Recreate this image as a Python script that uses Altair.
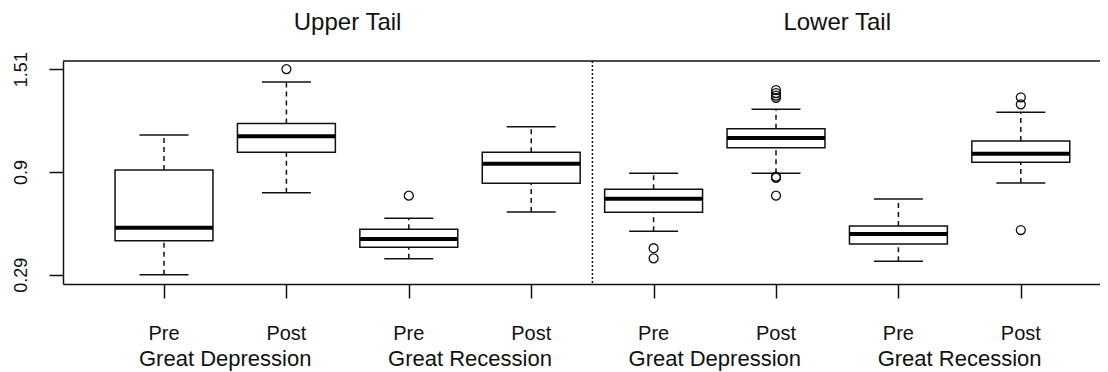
import altair as alt
import pandas as pd

# ---- data ----
positions = [1, 2, 3, 4, 5, 6, 7, 8]
phase = ["Pre", "Post", "Pre", "Post", "Pre", "Post", "Pre", "Post"]
lower = [0.290, 0.777, 0.385, 0.662, 0.548, 0.892, 0.370, 0.834]
q1 = [0.492, 1.016, 0.453, 0.832, 0.660, 1.044, 0.472, 0.957]
median = [0.569, 1.111, 0.502, 0.949, 0.741, 1.101, 0.532, 1.008]
q3 = [0.911, 1.188, 0.559, 1.016, 0.797, 1.156, 0.579, 1.083]
upper = [1.119, 1.434, 0.625, 1.168, 0.892, 1.272, 0.739, 1.254]

out_pos = [2, 3, 5, 5, 6, 6, 6, 6, 6, 6, 6, 8, 8, 8]
out_val = [1.510, 0.759, 0.447, 0.387, 1.386, 1.368, 1.353, 1.340, 0.872, 0.865, 0.759, 1.343, 1.301, 0.555]

group_pos = [1.5, 3.5, 5.5, 7.5]
group_label = ["Great Depression", "Great Recession", "Great Depression", "Great Recession"]

panel_pos = [2.5, 6.5]
panel_title = ["Upper Tail", "Lower Tail"]

divider = [4.5]
y_ticks = [0.29, 0.9, 1.51]

# ---- tables ----
boxes = pd.DataFrame({"pos": positions, "phase": phase, "lower": lower, "q1": q1,
                      "median": median, "q3": q3, "upper": upper})
outs = pd.DataFrame({"pos": out_pos, "val": out_val})
groups = pd.DataFrame({"pos": group_pos, "label": group_label})
panels = pd.DataFrame({"pos": panel_pos, "label": panel_title})
div = pd.DataFrame({"pos": divider})

W, H = 1037, 223
FONT = "Liberation Sans"
INK = "#111111"

xs = alt.Scale(domain=[0.1748, 8.647], nice=False, zero=False)
ys = alt.Scale(domain=[0.2348, 1.5582], nice=False, zero=False)

x_axis = alt.Axis(values=positions, labels=False, tickSize=14, tickWidth=1.5,
                  tickColor=INK, domainColor=INK, domainWidth=1.5, grid=False, title=None)
y_axis = alt.Axis(values=y_ticks, tickSize=14, tickWidth=1.5, tickColor=INK,
                  domainColor=INK, domainWidth=1.5, grid=False, title=None,
                  labelAngle=270, labelAlign="center", labelBaseline="alphabetic",
                  labelPadding=23, labelFont=FONT, labelFontSize=18, labelColor=INK,
                  labelExpr="datum.value == 0.9 ? '0.9' : format(datum.value, '.2f')")


def X(field):
    return alt.X(field, scale=xs, axis=x_axis)


def Y(field):
    return alt.Y(field, scale=ys, axis=y_axis)


base = alt.Chart(boxes)

whisk_hi = base.mark_rule(color=INK, strokeWidth=1.5, strokeDash=[5, 4]).encode(
    x=X("pos:Q"), y=Y("q3:Q"), y2="upper:Q",
)
whisk_lo = base.mark_rule(color=INK, strokeWidth=1.5, strokeDash=[5, 4]).encode(
    x=X("pos:Q"), y=Y("lower:Q"), y2="q1:Q",
)
caps_base = base.transform_calculate(cl="datum.pos - 0.2", cr="datum.pos + 0.2")
cap_hi = caps_base.mark_rule(color=INK, strokeWidth=1.5).encode(
    x=X("cl:Q"), x2="cr:Q", y=Y("upper:Q"),
)
cap_lo = caps_base.mark_rule(color=INK, strokeWidth=1.5).encode(
    x=X("cl:Q"), x2="cr:Q", y=Y("lower:Q"),
)
box_base = base.transform_calculate(bl="datum.pos - 0.4", br="datum.pos + 0.4")
rect = box_base.mark_rect(fill="white", stroke=INK, strokeWidth=1.5).encode(
    x=X("bl:Q"), x2="br:Q", y=Y("q1:Q"), y2="q3:Q",
)
med = box_base.mark_rule(color="black", strokeWidth=4).encode(
    x=X("bl:Q"), x2="br:Q", y=Y("median:Q"),
)
pts = alt.Chart(outs).mark_point(shape="circle", filled=False, color=INK,
                                 size=80, strokeWidth=1.3, opacity=1).encode(
    x=X("pos:Q"), y=Y("val:Q"),
)
divline = alt.Chart(div).mark_rule(color=INK, strokeWidth=1.5, strokeDash=[2, 2]).encode(
    x=X("pos:Q"), y=alt.value(0), y2=alt.value(H),
)
top = alt.Chart(div).mark_rule(color=INK, strokeWidth=1.5).encode(
    x=alt.value(0), x2=alt.value(W), y=alt.value(0),
)
phase_txt = base.mark_text(font=FONT, fontSize=20, color=INK, baseline="alphabetic").encode(
    x=X("pos:Q"), y=alt.value(H + 56), text="phase:N",
)
group_txt = alt.Chart(groups).mark_text(font=FONT, fontSize=22, color=INK, baseline="alphabetic").encode(
    x=X("pos:Q"), y=alt.value(H + 82), text="label:N",
)
title_txt = alt.Chart(panels).mark_text(font=FONT, fontSize=24, color=INK, baseline="alphabetic").encode(
    x=X("pos:Q"), y=alt.value(-31), text="label:N",
)

chart = alt.layer(whisk_hi, whisk_lo, cap_hi, cap_lo, rect, med, pts, divline, top,
                  phase_txt, group_txt, title_txt).properties(
    width=W, height=H,
    autosize=alt.AutoSizeParams(type="none"),
    padding={"left": 55, "top": 53, "right": 0, "bottom": 88},
    background="white",
).configure_view(stroke=None)

chart.save("out.html", embed_options={"renderer": "svg", "actions": False})
